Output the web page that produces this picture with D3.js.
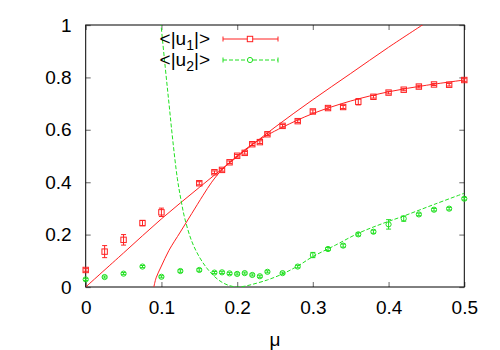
<!DOCTYPE html>
<html>
<head>
  <meta charset="utf-8">
  <style>
    body { margin: 0; background: #fff; }
    text { font-family: "Liberation Sans", Arial, Helvetica, sans-serif; }
  </style>
</head>
<body>
  <svg width="500" height="350"></svg>
<script src="https://cdn.jsdelivr.net/npm/d3@7"></script>
<script>

// measured points, <|u1|>
var u1Mu  = [0, 0.025, 0.05, 0.075, 0.1, 0.15, 0.17, 0.18, 0.19, 0.2, 0.21, 0.22, 0.23, 0.24,
             0.26, 0.28, 0.30, 0.32, 0.34, 0.36, 0.38, 0.40, 0.42, 0.44, 0.46, 0.48, 0.50];
var u1Val = [0.065, 0.135, 0.18, 0.244, 0.285, 0.396, 0.438, 0.447, 0.476, 0.501, 0.512, 0.545, 0.553, 0.583,
             0.615, 0.633, 0.670, 0.683, 0.687, 0.707, 0.726, 0.742, 0.753, 0.765, 0.773, 0.772, 0.79];
var u1Err = [0.005, 0.023, 0.02, 0.01, 0.016, 0.006, 0.005, 0.005, 0.005, 0.005, 0.005, 0.005, 0.005, 0.005,
             0.005, 0.005, 0.006, 0.005, 0.006, 0.012, 0.005, 0.005, 0.004, 0.005, 0.004, 0.005, 0.005];

// measured points, <|u2|>
var u2Mu  = [0, 0.025, 0.05, 0.075, 0.1, 0.125, 0.15, 0.17, 0.18, 0.19, 0.2, 0.21, 0.22, 0.23, 0.24,
             0.26, 0.28, 0.30, 0.32, 0.34, 0.36, 0.38, 0.40, 0.42, 0.44, 0.46, 0.48, 0.50];
var u2Val = [0.029, 0.038, 0.051, 0.078, 0.039, 0.061, 0.065, 0.055, 0.056, 0.052, 0.05, 0.053, 0.046, 0.041, 0.058,
             0.053, 0.078, 0.122, 0.145, 0.158, 0.201, 0.211, 0.239, 0.261, 0.277, 0.295, 0.299, 0.337];
var u2Err = [0.004, 0.004, 0.004, 0.004, 0.004, 0.005, 0.005, 0.004, 0.004, 0.004, 0.004, 0.004, 0.004, 0.004, 0.004,
             0.004, 0.005, 0.01, 0.006, 0.006, 0.006, 0.006, 0.018, 0.01, 0.005, 0.005, 0.005, 0.005];

// curves
var lineAMu  = [0, 0.05, 0.1, 0.15, 0.2, 0.25, 0.3, 0.35, 0.4, 0.45];
var lineAVal = [0, 0.13, 0.26, 0.38, 0.497, 0.61, 0.715, 0.815, 0.915, 1.01];
var lineBMu  = [0.09, 0.093, 0.1, 0.11, 0.125, 0.14, 0.155, 0.1664, 0.18, 0.2, 0.22, 0.24, 0.26, 0.3, 0.35, 0.4, 0.45, 0.5];
var lineBVal = [0, 0.035, 0.08, 0.14, 0.21, 0.28, 0.35, 0.4, 0.448, 0.5, 0.545, 0.58, 0.61, 0.662, 0.71, 0.745, 0.77, 0.79];
var lineCMu  = [0.097, 0.0995, 0.105, 0.11, 0.115, 0.121, 0.126, 0.131, 0.14, 0.15, 0.16, 0.17, 0.18, 0.19, 0.2,
                0.21, 0.22, 0.24, 0.26, 0.28, 0.3, 0.33, 0.36, 0.39, 0.42, 0.46, 0.5];
var lineCVal = [1.08, 1.0, 0.84, 0.70, 0.56, 0.415, 0.33, 0.26, 0.175, 0.115, 0.072, 0.04, 0.018, 0.005, 0,
                0.003, 0.01, 0.027, 0.05, 0.08, 0.116, 0.16, 0.205, 0.24, 0.271, 0.315, 0.358];

var xTicks = [0, 0.1, 0.2, 0.3, 0.4, 0.5];
var yTicks = [0, 0.2, 0.4, 0.6, 0.8, 1];

var red = "#ff2020", green = "#20e020";

var svg = d3.select("svg");
var pLeft = 85.7, pRight = 464.3, pTop = 25, pBottom = 287;

var x = d3.scaleLinear().domain([0, 0.5]).range([pLeft, pRight]);
var y = d3.scaleLinear().domain([0, 1]).range([pBottom, pTop]);

svg.append("clipPath").attr("id", "clip")
  .append("rect").attr("x", pLeft).attr("y", pTop).attr("width", pRight - pLeft).attr("height", pBottom - pTop);

// axes: ticks inside, mirrored
function fmt(d) { return d3.format("~g")(d); }

svg.append("g").attr("transform", "translate(0," + pBottom + ")")
  .call(d3.axisBottom(x).tickValues(xTicks).tickSize(-5).tickPadding(14).tickFormat(fmt));
svg.append("g").attr("transform", "translate(0," + pTop + ")")
  .call(d3.axisTop(x).tickValues(xTicks).tickSize(-5).tickFormat(""));
svg.append("g").attr("transform", "translate(" + pLeft + ",0)")
  .call(d3.axisLeft(y).tickValues(yTicks).tickSize(-5).tickPadding(14).tickFormat(fmt));
svg.append("g").attr("transform", "translate(" + pRight + ",0)")
  .call(d3.axisRight(y).tickValues(yTicks).tickSize(-5).tickFormat(""));

svg.selectAll(".domain").remove();
svg.selectAll(".tick line").attr("stroke", "#888").attr("stroke-width", 1.3);
svg.selectAll(".tick text").attr("font-size", 19).attr("fill", "#000")
  .attr("font-family", "Liberation Sans, Arial, sans-serif");

svg.append("rect").attr("x", pLeft).attr("y", pTop).attr("width", pRight - pLeft).attr("height", pBottom - pTop)
  .attr("fill", "none").attr("stroke", "#000").attr("stroke-width", 1);

svg.append("text").attr("x", (pLeft + pRight) / 2).attr("y", 346).attr("text-anchor", "middle")
  .attr("font-size", 19).text("\u03bc");

// curves
var plot = svg.append("g").attr("clip-path", "url(#clip)");
function curve(mu, val, color, dash) {
  var pts = mu.map(function(m, i) { return [m, val[i]]; });
  plot.append("path").datum(pts)
    .attr("fill", "none").attr("stroke", color).attr("stroke-width", 1)
    .attr("stroke-dasharray", dash)
    .attr("d", d3.line().x(function(d) { return x(d[0]); }).y(function(d) { return y(d[1]); })
      .curve(d3.curveCatmullRom.alpha(0.5)));
}
curve(lineAMu, lineAVal, red, null);
curve(lineBMu, lineBVal, red, null);
curve(lineCMu, lineCVal, green, "4,2");

// error bars + markers
function points(mu, val, err, color, shape) {
  var g = svg.append("g").attr("stroke", color).attr("fill", "none").attr("stroke-width", 1);
  mu.forEach(function(m, i) {
    var cx = x(m), cy = y(val[i]);
    var y1 = y(val[i] + err[i]), y2 = y(val[i] - err[i]);
    g.append("line").attr("x1", cx).attr("x2", cx).attr("y1", y1).attr("y2", y2);
    g.append("line").attr("x1", cx - 2.5).attr("x2", cx + 2.5).attr("y1", y1).attr("y2", y1);
    g.append("line").attr("x1", cx - 2.5).attr("x2", cx + 2.5).attr("y1", y2).attr("y2", y2);
    if (shape === "square")
      g.append("rect").attr("x", cx - 2.7).attr("y", cy - 2.7).attr("width", 5.4).attr("height", 5.4);
    else
      g.append("circle").attr("cx", cx).attr("cy", cy).attr("r", 2.6);
  });
}
points(u1Mu, u1Val, u1Err, red, "square");
points(u2Mu, u2Val, u2Err, green, "circle");

// legend
var legend = [
  { sub: "1", color: red, shape: "square", dash: null, base: 45 },
  { sub: "2", color: green, shape: "circle", dash: "4,2", base: 66 }
];
legend.forEach(function(d) {
  var t = svg.append("text").attr("x", 210).attr("y", d.base).attr("text-anchor", "end").attr("font-size", 19);
  t.append("tspan").text("<|u");
  t.append("tspan").attr("font-size", 14).attr("dy", 5).text(d.sub);
  t.append("tspan").attr("dy", -5).text("|>");
  var cy = d.base - 6;
  var g = svg.append("g").attr("stroke", d.color).attr("fill", "none").attr("stroke-width", 1);
  g.append("line").attr("x1", 223).attr("x2", 278).attr("y1", cy).attr("y2", cy).attr("stroke-dasharray", d.dash);
  g.append("line").attr("x1", 223).attr("x2", 223).attr("y1", cy - 2.5).attr("y2", cy + 2.5);
  g.append("line").attr("x1", 278).attr("x2", 278).attr("y1", cy - 2.5).attr("y2", cy + 2.5);
  if (d.shape === "square")
    g.append("rect").attr("x", 250 - 2.7).attr("y", cy - 2.7).attr("width", 5.4).attr("height", 5.4).attr("fill", "#fff");
  else
    g.append("circle").attr("cx", 250).attr("cy", cy).attr("r", 2.6).attr("fill", "#fff");
});

</script>
</body>
</html>
